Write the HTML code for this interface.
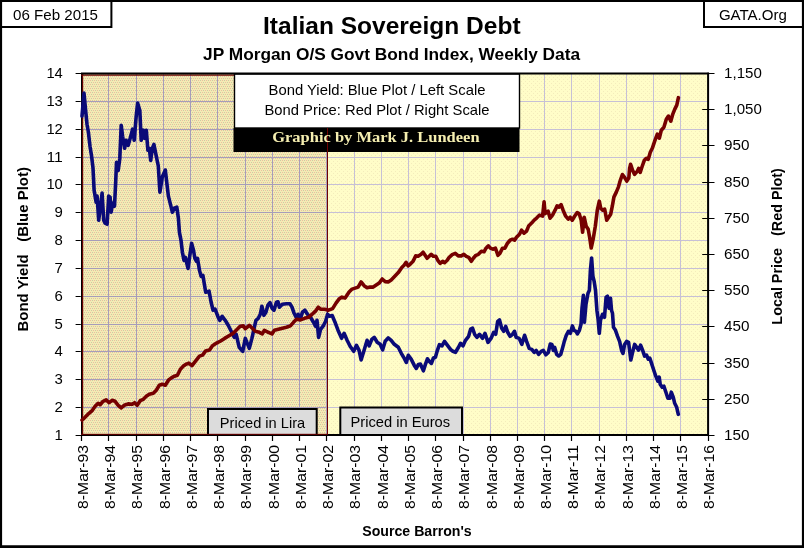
<!DOCTYPE html>
<html lang="en"><head><meta charset="utf-8"><title>Italian Sovereign Debt</title>
<style>html,body{margin:0;padding:0;background:#fff}body{width:804px;height:548px;overflow:hidden}svg{display:block}text{font-family:"Liberation Sans",Arial,sans-serif;fill:#000}.b{font-weight:bold}.s{font-family:"Liberation Serif","Times New Roman",serif;font-weight:bold;fill:#f5eeb0}</style></head><body>
<svg width="804" height="548" viewBox="0 0 804 548">
<defs><pattern id="pt" width="4" height="4" patternUnits="userSpaceOnUse"><rect width="4" height="4" fill="#f3ebb4"/><rect x="0" y="0" width="1" height="1" fill="#cdc8a5"/><rect x="2" y="0" width="1" height="1" fill="#ebbea0"/><rect x="1" y="2" width="1" height="1" fill="#ebbea0"/><rect x="3" y="2" width="1" height="1" fill="#cdc8a5"/></pattern><pattern id="py" width="4" height="4" patternUnits="userSpaceOnUse"><rect width="4" height="4" fill="#fffdc8"/><rect x="1" y="1" width="1" height="1" fill="#f4ecbc"/><rect x="3" y="3" width="1" height="1" fill="#f4ecbc"/></pattern></defs>
<rect x="0" y="0" width="804" height="548" fill="#fff"/>
<rect x="81.6" y="73.5" width="626.6" height="361.9" fill="url(#py)"/>
<rect x="81.6" y="73.5" width="245.8" height="361.9" fill="url(#pt)"/>
<path d="M354.5,73.5 V435.4 M381.5,73.5 V435.4 M408.5,73.5 V435.4 M435.5,73.5 V435.4 M463.5,73.5 V435.4 M490.5,73.5 V435.4 M517.5,73.5 V435.4 M544.5,73.5 V435.4 M571.5,73.5 V435.4 M599.5,73.5 V435.4 M626.5,73.5 V435.4 M653.5,73.5 V435.4 M680.5,73.5 V435.4 M327.4,101.5 H708.2 M327.4,129.5 H708.2 M327.4,157.5 H708.2 M327.4,184.5 H708.2 M327.4,212.5 H708.2 M327.4,240.5 H708.2 M327.4,268.5 H708.2 M327.4,296.5 H708.2 M327.4,324.5 H708.2 M327.4,351.5 H708.2 M327.4,379.5 H708.2 M327.4,407.5 H708.2" stroke="#c6c0d6" stroke-width="1" fill="none" shape-rendering="crispEdges"/>
<path d="M108.5,73.5 V435.4 M136.5,73.5 V435.4 M163.5,73.5 V435.4 M190.5,73.5 V435.4 M217.5,73.5 V435.4 M245.5,73.5 V435.4 M272.5,73.5 V435.4 M299.5,73.5 V435.4 M326.5,73.5 V435.4 M81.6,101.5 H327.4 M81.6,129.5 H327.4 M81.6,157.5 H327.4 M81.6,184.5 H327.4 M81.6,212.5 H327.4 M81.6,240.5 H327.4 M81.6,268.5 H327.4 M81.6,296.5 H327.4 M81.6,324.5 H327.4 M81.6,351.5 H327.4 M81.6,379.5 H327.4 M81.6,407.5 H327.4" stroke="#a69cba" stroke-width="1" fill="none" shape-rendering="crispEdges"/>
<path d="M82.6,435.4 V74.0" stroke="#6a0000" stroke-width="1.2" fill="none"/>
<path d="M81.5,435.4 V73.5" stroke="#000" stroke-width="1" fill="none" shape-rendering="crispEdges"/>
<path d="M81,75.1 H328" stroke="#6e0000" stroke-width="1.3" fill="none"/>
<path d="M327.5,73.5 V435.4" stroke="#6e0000" stroke-width="1" fill="none" shape-rendering="crispEdges"/>
<rect x="234.5" y="74" width="285" height="54" fill="#fff" stroke="#000" stroke-width="1.4"/>
<rect x="233.5" y="128" width="286" height="24" fill="#000"/>
<path d="M327.5,128 V152" stroke="#6e0000" stroke-width="1" shape-rendering="crispEdges"/>
<text x="377" y="95" text-anchor="middle" font-size="14.6" textLength="217" lengthAdjust="spacingAndGlyphs">Bond Yield: Blue Plot / Left Scale</text>
<text x="377" y="115" text-anchor="middle" font-size="14.6" textLength="225" lengthAdjust="spacingAndGlyphs">Bond Price: Red Plot / Right Scale</text>
<text class="s" x="375.9" y="142.3" text-anchor="middle" font-size="14" textLength="207.4" lengthAdjust="spacingAndGlyphs">Graphic by Mark J. Lundeen</text>
<rect x="208" y="409" width="108.7" height="26" fill="#dcdcdc" stroke="#000" stroke-width="2"/>
<rect x="340.3" y="407.5" width="121.7" height="27.5" fill="#dcdcdc" stroke="#000" stroke-width="2"/>
<text x="262.5" y="428" text-anchor="middle" font-size="14.6" textLength="85.3" lengthAdjust="spacingAndGlyphs">Priced in Lira</text>
<text x="400.3" y="427" text-anchor="middle" font-size="14.6" textLength="99.6" lengthAdjust="spacingAndGlyphs">Priced in Euros</text>
<path d="M82.0,116.2 L84.0,93.1 L85.6,110.2 L87.0,124.2 L88.4,132.2 L90.0,146.3 L91.6,156.3 L93.0,168.0 L94.1,190.1 L96.1,202.1 L97.1,196.1 L98.7,220.2 L100.5,206.1 L102.1,193.1 L103.7,220.2 L105.1,223.2 L107.1,224.2 L108.7,196.1 L110.1,197.1 L111.1,212.2 L112.7,203.1 L114.5,206.1 L115.7,182.0 L116.5,162.4 L118.2,170.4 L119.8,158.4 L121.2,125.2 L122.6,136.3 L124.6,148.3 L126.2,140.3 L128.2,145.3 L130.2,138.3 L132.6,129.2 L134.2,140.3 L136.2,116.2 L137.6,103.1 L139.8,110.2 L141.2,140.3 L143.3,130.2 L144.7,138.3 L146.3,130.2 L147.9,150.3 L149.3,148.3 L150.7,160.4 L152.3,148.3 L153.9,144.3 L155.9,154.3 L158.3,166.0 L159.9,192.1 L162.3,177.0 L165.3,170.0 L166.7,182.0 L168.4,196.1 L170.4,204.1 L172.4,212.2 L174.4,208.2 L176.8,207.1 L178.4,218.2 L179.4,232.2 L181.0,240.3 L182.4,252.3 L184.0,260.4 L185.4,257.3 L188.0,268.4 L190.0,254.3 L191.6,243.3 L193.5,250.3 L194.9,258.4 L196.5,261.4 L197.5,258.4 L199.5,270.4 L201.1,276.4 L202.9,275.4 L205.7,292.2 L209.1,291.2 L211.1,302.2 L213.1,310.2 L215.1,309.2 L218.2,317.3 L219.8,320.3 L222.2,316.3 L225.2,320.3 L228.2,325.3 L231.2,331.3 L234.2,337.3 L236.2,334.3 L239.2,347.4 L242.7,351.4 L245.3,338.4 L247.3,343.4 L249.3,348.4 L251.9,338.4 L253.9,329.3 L255.9,320.3 L258.3,318.3 L260.3,314.3 L261.9,306.2 L263.9,315.3 L265.9,312.2 L267.9,305.2 L270.0,302.6 L272.0,308.2 L274.0,310.2 L276.4,302.2 L278.0,301.8 L279.4,307.2 L282.4,304.2 L286.4,303.8 L290.0,303.8 L292.0,307.2 L294.1,313.3 L296.1,317.3 L298.1,314.3 L300.1,319.3 L302.5,312.2 L304.9,310.2 L307.5,314.3 L310.5,317.3 L313.5,322.3 L315.5,326.3 L317.0,320.3 L318.6,337.4 L320.6,329.3 L323.6,325.3 L325.6,321.3 L327.6,314.3 L329.6,316.3 L332.2,315.5 L335.0,322.2 L338.0,330.2 L341.6,338.3 L344.1,333.3 L347.1,340.3 L350.1,346.3 L353.7,351.3 L356.5,345.3 L359.1,350.3 L361.1,360.0 L364.1,350.3 L367.1,340.3 L369.2,345.9 L371.8,339.3 L374.2,337.3 L377.2,342.3 L380.2,344.3 L382.6,349.9 L385.2,341.3 L388.2,337.9 L391.2,340.3 L394.3,344.3 L398.3,347.3 L401.3,353.3 L404.3,358.4 L406.3,362.4 L408.3,355.3 L411.3,359.4 L414.3,365.4 L416.3,368.4 L418.4,364.4 L420.4,364.0 L423.4,370.8 L425.4,364.4 L427.4,358.8 L429.4,361.4 L431.4,363.4 L433.4,358.0 L435.4,357.3 L437.4,350.3 L439.4,344.7 L442.0,345.9 L444.5,341.3 L447.5,345.3 L450.5,349.3 L452.9,351.3 L455.5,352.3 L458.5,347.3 L460.5,343.3 L462.9,345.9 L465.5,340.3 L468.6,336.3 L470.6,329.2 L472.6,328.2 L474.6,334.3 L477.0,337.3 L479.6,334.3 L482.6,338.3 L485.0,333.3 L488.0,342.4 L491.0,338.4 L493.7,332.3 L495.7,334.3 L497.7,321.3 L499.5,319.9 L501.7,328.3 L503.7,331.3 L505.7,326.3 L507.7,332.3 L510.1,336.3 L512.5,334.3 L514.5,331.3 L516.1,337.3 L519.2,338.4 L521.8,344.4 L524.6,335.3 L526.6,341.4 L529.2,348.4 L531.8,349.4 L534.2,352.4 L536.2,350.4 L538.6,354.4 L541.2,351.4 L543.3,350.4 L545.9,354.8 L548.3,352.4 L550.3,344.0 L551.9,344.4 L553.3,350.4 L554.7,347.4 L556.7,354.4 L558.7,356.0 L560.7,354.4 L562.7,347.4 L564.3,341.4 L566.3,335.3 L568.4,331.3 L570.4,333.3 L572.4,325.9 L574.0,330.3 L576.0,331.3 L577.4,333.9 L579.4,330.3 L581.0,324.3 L582.0,308.2 L583.4,295.2 L584.4,322.3 L586.0,304.2 L588.0,293.2 L589.4,290.2 L590.4,270.1 L591.6,258.0 L592.9,276.1 L594.1,281.1 L595.5,290.2 L596.9,310.2 L598.1,319.3 L599.3,333.3 L600.5,320.3 L602.5,314.3 L604.5,317.3 L606.1,297.2 L607.5,296.2 L609.1,308.2 L610.5,298.2 L611.5,310.2 L612.5,313.3 L613.5,327.3 L615.5,330.3 L617.6,336.3 L619.6,341.4 L621.6,350.4 L623.0,353.4 L624.6,344.4 L626.6,341.4 L628.6,342.4 L629.6,350.4 L630.8,360.0 L632.6,352.4 L634.6,344.4 L636.5,347.1 L638.6,350.1 L640.6,345.1 L642.6,350.1 L644.6,356.1 L646.6,355.1 L648.2,359.1 L649.8,358.1 L651.8,364.1 L653.8,370.2 L655.8,376.2 L657.8,381.2 L659.2,377.2 L660.2,384.2 L662.2,387.2 L663.9,386.2 L665.9,392.2 L667.9,398.3 L669.9,398.3 L671.3,392.2 L673.3,397.3 L674.7,403.3 L676.7,407.3 L678.3,414.3" stroke="#0a0a78" stroke-width="3.6" fill="none" stroke-linejoin="round" stroke-linecap="round"/>
<path d="M82.0,420.0 L85.0,417.3 L89.0,413.3 L92.4,410.3 L95.1,406.3 L98.1,403.3 L100.1,404.7 L103.1,401.3 L106.1,399.9 L109.1,402.7 L112.1,400.3 L115.1,401.3 L118.2,405.3 L121.2,407.9 L124.2,405.3 L128.2,403.9 L132.2,404.3 L134.6,402.7 L137.2,405.3 L140.2,400.7 L143.3,399.3 L146.3,396.3 L149.3,394.3 L153.3,393.3 L156.3,390.2 L159.3,385.2 L162.3,384.2 L165.3,385.2 L168.4,380.2 L171.4,377.8 L174.4,376.2 L177.4,375.2 L180.4,369.2 L183.4,366.1 L186.4,364.1 L188.8,363.1 L192.0,365.7 L195.5,361.1 L199.5,356.1 L202.5,355.1 L205.5,351.1 L209.5,350.1 L212.5,345.7 L216.5,343.1 L220.6,341.0 L224.6,338.4 L228.6,336.0 L232.6,333.6 L234.2,332.3 L237.2,329.3 L240.2,326.3 L243.3,325.9 L245.3,328.7 L249.3,325.3 L252.3,328.3 L255.3,331.3 L259.3,332.3 L262.3,333.9 L264.3,330.3 L268.4,332.3 L272.0,333.9 L274.4,330.3 L278.4,329.3 L282.4,328.3 L286.4,327.3 L290.4,325.9 L293.5,322.3 L296.5,319.3 L300.5,319.9 L304.5,318.3 L308.5,317.3 L312.5,313.9 L315.5,311.2 L318.2,307.2 L320.6,309.2 L324.6,309.2 L328.6,310.2 L332.6,308.6 L336.0,303.1 L339.0,299.1 L342.0,297.1 L345.1,298.1 L349.1,292.1 L352.1,289.1 L355.1,288.1 L358.1,287.1 L361.1,282.0 L364.1,285.7 L367.1,287.7 L370.2,287.1 L373.2,287.1 L376.2,285.1 L379.2,283.1 L382.2,279.0 L385.2,281.6 L388.2,282.0 L391.2,280.0 L394.3,276.8 L398.3,272.6 L402.0,267.3 L404.1,265.3 L406.1,262.3 L408.1,265.9 L410.1,264.3 L413.1,261.3 L415.7,255.9 L418.1,256.3 L421.1,254.3 L423.1,252.2 L425.1,255.3 L427.1,258.3 L429.2,256.3 L431.2,254.3 L433.2,256.3 L435.8,256.3 L437.8,260.3 L440.2,263.3 L442.6,261.3 L444.6,262.7 L447.2,260.3 L449.2,257.3 L452.2,254.7 L455.3,253.3 L458.3,255.9 L461.3,255.9 L463.9,254.3 L466.3,256.3 L468.7,257.3 L471.3,261.3 L473.3,258.3 L475.9,255.3 L478.4,254.3 L481.4,251.2 L484.0,251.8 L486.0,248.2 L488.4,245.8 L490.4,248.2 L492.8,249.2 L495.4,248.2 L498.0,255.3 L500.0,253.3 L502.4,248.2 L504.9,248.2 L507.5,243.2 L510.1,240.2 L512.5,239.2 L514.5,240.2 L516.5,237.2 L519.5,234.2 L521.5,230.2 L524.1,233.2 L526.5,231.2 L528.6,226.1 L531.6,223.1 L534.2,220.1 L536.6,218.1 L539.6,215.1 L542.6,216.1 L544.1,201.8 L545.1,213.6 L548.1,211.2 L550.1,218.2 L552.5,215.2 L555.1,210.2 L557.1,205.8 L559.1,207.2 L561.1,204.6 L563.1,210.2 L565.7,216.2 L568.2,219.2 L570.2,217.2 L572.2,220.2 L574.6,216.2 L577.2,212.6 L579.2,213.8 L581.2,220.2 L582.6,232.3 L584.2,217.2 L586.2,226.3 L588.2,229.3 L589.8,238.3 L591.2,248.0 L593.3,238.3 L595.3,226.3 L597.3,210.2 L599.3,201.2 L600.7,208.2 L602.7,210.2 L604.7,209.2 L606.7,220.2 L608.7,217.2 L610.7,214.2 L612.3,206.2 L613.9,197.1 L616.3,192.1 L618.4,187.1 L620.4,180.1 L622.4,174.5 L624.4,177.1 L626.8,181.1 L628.8,178.1 L629.6,168.4 L630.6,164.3 L632.6,170.4 L634.6,174.4 L637.2,171.4 L638.6,168.4 L640.2,172.4 L642.2,166.3 L644.3,160.3 L646.3,158.3 L648.3,159.3 L650.3,152.3 L652.3,148.3 L654.7,141.2 L657.3,134.2 L659.3,138.2 L661.3,130.2 L663.9,127.2 L666.3,119.2 L668.4,116.1 L670.8,121.2 L672.8,114.1 L674.8,109.1 L676.8,105.1 L678.4,97.7" stroke="#760000" stroke-width="3.6" fill="none" stroke-linejoin="round" stroke-linecap="round"/>
<path d="M75.6,73.5 H714.5" stroke="#000" stroke-width="1.2" fill="none"/>
<path d="M81,73.5 H709.1" stroke="#000" stroke-width="2" fill="none"/>
<path d="M81,434.9 H709.1 M708.1,72.8 V435.9" stroke="#000" stroke-width="2" fill="none"/>
<path d="M81,434.3 H328" stroke="#6e0000" stroke-width="1" fill="none"/>
<path d="M75.6,435.5 H81.6 M708.2,435.5 H714.5 M75.6,101.5 H80.8 M75.6,129.5 H80.8 M75.6,157.5 H80.8 M75.6,184.5 H80.8 M75.6,212.5 H80.8 M75.6,240.5 H80.8 M75.6,268.5 H80.8 M75.6,296.5 H80.8 M75.6,324.5 H80.8 M75.6,351.5 H80.8 M75.6,379.5 H80.8 M75.6,407.5 H80.8 M702.2,109.5 H714.5 M702.2,145.5 H714.5 M702.2,182.5 H714.5 M702.2,218.5 H714.5 M702.2,254.5 H714.5 M702.2,290.5 H714.5 M702.2,326.5 H714.5 M702.2,363.5 H714.5 M702.2,399.5 H714.5 M81.5,435.4 V441.0 M108.5,435.4 V441.0 M136.5,435.4 V441.0 M163.5,435.4 V441.0 M190.5,435.4 V441.0 M217.5,435.4 V441.0 M245.5,435.4 V441.0 M272.5,435.4 V441.0 M299.5,435.4 V441.0 M326.5,435.4 V441.0 M354.5,435.4 V441.0 M381.5,435.4 V441.0 M408.5,435.4 V441.0 M435.5,435.4 V441.0 M463.5,435.4 V441.0 M490.5,435.4 V441.0 M517.5,435.4 V441.0 M544.5,435.4 V441.0 M571.5,435.4 V441.0 M599.5,435.4 V441.0 M626.5,435.4 V441.0 M653.5,435.4 V441.0 M680.5,435.4 V441.0 M708.5,435.4 V441.0" stroke="#000" stroke-width="1.2" fill="none"/>
<text x="62.8" y="77.8" text-anchor="end" font-size="14.3" textLength="16.4" lengthAdjust="spacingAndGlyphs">14</text>
<text x="62.8" y="105.8" text-anchor="end" font-size="14.3" textLength="16.4" lengthAdjust="spacingAndGlyphs">13</text>
<text x="62.8" y="133.8" text-anchor="end" font-size="14.3" textLength="16.4" lengthAdjust="spacingAndGlyphs">12</text>
<text x="62.8" y="161.8" text-anchor="end" font-size="14.3" textLength="16.4" lengthAdjust="spacingAndGlyphs">11</text>
<text x="62.8" y="188.8" text-anchor="end" font-size="14.3" textLength="16.4" lengthAdjust="spacingAndGlyphs">10</text>
<text x="62.8" y="216.8" text-anchor="end" font-size="14.3" textLength="8.3" lengthAdjust="spacingAndGlyphs">9</text>
<text x="62.8" y="244.8" text-anchor="end" font-size="14.3" textLength="8.3" lengthAdjust="spacingAndGlyphs">8</text>
<text x="62.8" y="272.8" text-anchor="end" font-size="14.3" textLength="8.3" lengthAdjust="spacingAndGlyphs">7</text>
<text x="62.8" y="300.8" text-anchor="end" font-size="14.3" textLength="8.3" lengthAdjust="spacingAndGlyphs">6</text>
<text x="62.8" y="328.8" text-anchor="end" font-size="14.3" textLength="8.3" lengthAdjust="spacingAndGlyphs">5</text>
<text x="62.8" y="355.8" text-anchor="end" font-size="14.3" textLength="8.3" lengthAdjust="spacingAndGlyphs">4</text>
<text x="62.8" y="383.8" text-anchor="end" font-size="14.3" textLength="8.3" lengthAdjust="spacingAndGlyphs">3</text>
<text x="62.8" y="411.8" text-anchor="end" font-size="14.3" textLength="8.3" lengthAdjust="spacingAndGlyphs">2</text>
<text x="62.8" y="439.8" text-anchor="end" font-size="14.3" textLength="8.3" lengthAdjust="spacingAndGlyphs">1</text>
<text x="724.1" y="77.8" font-size="14.3" textLength="37.7" lengthAdjust="spacingAndGlyphs">1,150</text>
<text x="724.1" y="113.8" font-size="14.3" textLength="37.7" lengthAdjust="spacingAndGlyphs">1,050</text>
<text x="724.1" y="149.8" font-size="14.3" textLength="25.5" lengthAdjust="spacingAndGlyphs">950</text>
<text x="724.1" y="186.8" font-size="14.3" textLength="25.5" lengthAdjust="spacingAndGlyphs">850</text>
<text x="724.1" y="222.8" font-size="14.3" textLength="25.5" lengthAdjust="spacingAndGlyphs">750</text>
<text x="724.1" y="258.8" font-size="14.3" textLength="25.5" lengthAdjust="spacingAndGlyphs">650</text>
<text x="724.1" y="294.8" font-size="14.3" textLength="25.5" lengthAdjust="spacingAndGlyphs">550</text>
<text x="724.1" y="330.8" font-size="14.3" textLength="25.5" lengthAdjust="spacingAndGlyphs">450</text>
<text x="724.1" y="367.8" font-size="14.3" textLength="25.5" lengthAdjust="spacingAndGlyphs">350</text>
<text x="724.1" y="403.8" font-size="14.3" textLength="25.5" lengthAdjust="spacingAndGlyphs">250</text>
<text x="724.1" y="439.8" font-size="14.3" textLength="25.5" lengthAdjust="spacingAndGlyphs">150</text>
<text transform="translate(87.8,509) rotate(-90)" font-size="15.3" textLength="64" lengthAdjust="spacingAndGlyphs">8-Mar-93</text>
<text transform="translate(115.0,509) rotate(-90)" font-size="15.3" textLength="64" lengthAdjust="spacingAndGlyphs">8-Mar-94</text>
<text transform="translate(142.3,509) rotate(-90)" font-size="15.3" textLength="64" lengthAdjust="spacingAndGlyphs">8-Mar-95</text>
<text transform="translate(169.5,509) rotate(-90)" font-size="15.3" textLength="64" lengthAdjust="spacingAndGlyphs">8-Mar-96</text>
<text transform="translate(196.8,509) rotate(-90)" font-size="15.3" textLength="64" lengthAdjust="spacingAndGlyphs">8-Mar-97</text>
<text transform="translate(224.0,509) rotate(-90)" font-size="15.3" textLength="64" lengthAdjust="spacingAndGlyphs">8-Mar-98</text>
<text transform="translate(251.3,509) rotate(-90)" font-size="15.3" textLength="64" lengthAdjust="spacingAndGlyphs">8-Mar-99</text>
<text transform="translate(278.5,509) rotate(-90)" font-size="15.3" textLength="64" lengthAdjust="spacingAndGlyphs">8-Mar-00</text>
<text transform="translate(305.7,509) rotate(-90)" font-size="15.3" textLength="64" lengthAdjust="spacingAndGlyphs">8-Mar-01</text>
<text transform="translate(333.0,509) rotate(-90)" font-size="15.3" textLength="64" lengthAdjust="spacingAndGlyphs">8-Mar-02</text>
<text transform="translate(360.2,509) rotate(-90)" font-size="15.3" textLength="64" lengthAdjust="spacingAndGlyphs">8-Mar-03</text>
<text transform="translate(387.5,509) rotate(-90)" font-size="15.3" textLength="64" lengthAdjust="spacingAndGlyphs">8-Mar-04</text>
<text transform="translate(414.7,509) rotate(-90)" font-size="15.3" textLength="64" lengthAdjust="spacingAndGlyphs">8-Mar-05</text>
<text transform="translate(442.0,509) rotate(-90)" font-size="15.3" textLength="64" lengthAdjust="spacingAndGlyphs">8-Mar-06</text>
<text transform="translate(469.2,509) rotate(-90)" font-size="15.3" textLength="64" lengthAdjust="spacingAndGlyphs">8-Mar-07</text>
<text transform="translate(496.5,509) rotate(-90)" font-size="15.3" textLength="64" lengthAdjust="spacingAndGlyphs">8-Mar-08</text>
<text transform="translate(523.7,509) rotate(-90)" font-size="15.3" textLength="64" lengthAdjust="spacingAndGlyphs">8-Mar-09</text>
<text transform="translate(550.9,509) rotate(-90)" font-size="15.3" textLength="64" lengthAdjust="spacingAndGlyphs">8-Mar-10</text>
<text transform="translate(578.2,509) rotate(-90)" font-size="15.3" textLength="64" lengthAdjust="spacingAndGlyphs">8-Mar-11</text>
<text transform="translate(605.4,509) rotate(-90)" font-size="15.3" textLength="64" lengthAdjust="spacingAndGlyphs">8-Mar-12</text>
<text transform="translate(632.7,509) rotate(-90)" font-size="15.3" textLength="64" lengthAdjust="spacingAndGlyphs">8-Mar-13</text>
<text transform="translate(659.9,509) rotate(-90)" font-size="15.3" textLength="64" lengthAdjust="spacingAndGlyphs">8-Mar-14</text>
<text transform="translate(687.2,509) rotate(-90)" font-size="15.3" textLength="64" lengthAdjust="spacingAndGlyphs">8-Mar-15</text>
<text transform="translate(714.4,509) rotate(-90)" font-size="15.3" textLength="64" lengthAdjust="spacingAndGlyphs">8-Mar-16</text>
<text class="b" x="391.8" y="34.3" text-anchor="middle" font-size="23.6" textLength="257.5" lengthAdjust="spacingAndGlyphs">Italian Sovereign Debt</text>
<text class="b" x="391.6" y="60.1" text-anchor="middle" font-size="17" textLength="377" lengthAdjust="spacingAndGlyphs">JP Morgan O/S Govt Bond Index, Weekly Data</text>
<text class="b" x="417" y="535.6" text-anchor="middle" font-size="14.8" textLength="109.5" lengthAdjust="spacingAndGlyphs">Source Barron's</text>
<text class="b" transform="translate(28.0,249.3) rotate(-90)" text-anchor="middle" font-size="15.5" textLength="164.5" lengthAdjust="spacingAndGlyphs" xml:space="preserve">Bond Yield   (Blue Plot)</text>
<text class="b" transform="translate(781.7,246.4) rotate(-90)" text-anchor="middle" font-size="15.5" textLength="156.5" lengthAdjust="spacingAndGlyphs" xml:space="preserve">Local Price   (Red Plot)</text>
<path d="M111.4,0 V26.9 H0" stroke="#000" stroke-width="2" fill="none"/>
<path d="M704,0 V26.9 H804" stroke="#000" stroke-width="2" fill="none"/>
<text x="13.0" y="19.7" font-size="14.5" textLength="85" lengthAdjust="spacingAndGlyphs">06 Feb 2015</text>
<text x="718.9" y="19.7" font-size="14.5" textLength="68" lengthAdjust="spacingAndGlyphs">GATA.Org</text>
<path d="M1,1 H803 V546.7 H1 Z" stroke="#000" stroke-width="2.2" fill="none"/>
<rect x="0" y="545.5" width="804" height="2.5" fill="#000"/>
</svg></body></html>
